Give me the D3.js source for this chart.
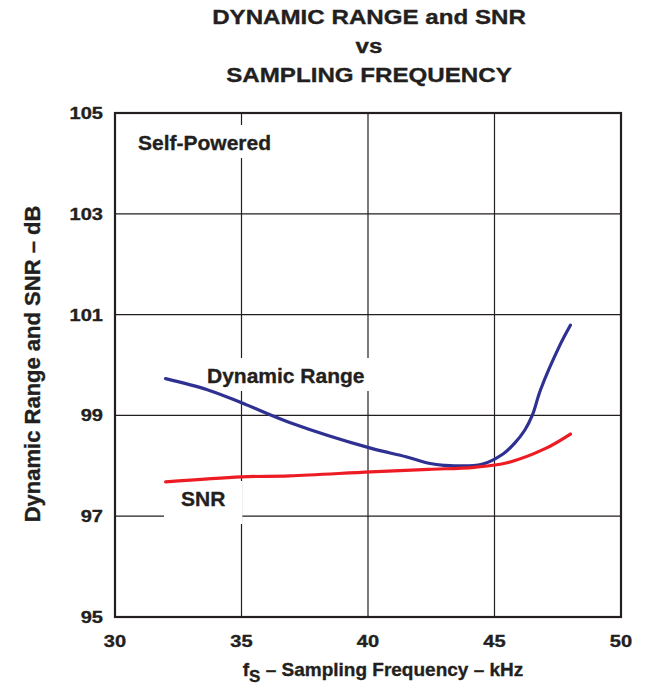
<!DOCTYPE html>
<html>
<head>
<meta charset="utf-8">
<script src="https://cdn.jsdelivr.net/npm/d3@7"></script>
<style>
  html, body { margin: 0; padding: 0; background: #fff; }
  text { font-family: "Liberation Sans", Arial, Helvetica, sans-serif; font-weight: bold; fill: #231f20; stroke: #231f20; stroke-width: 0.35px; }
</style>
</head>
<body>
<svg id="chart" width="650" height="692"></svg>
<script>
// ---- data ----
const titleLines = ["DYNAMIC RANGE and SNR", "vs", "SAMPLING FREQUENCY"];
const xTicks = [30, 35, 40, 45, 50];
const yTicks = [95, 97, 99, 101, 103, 105];
const drFreq = [32.0, 33.65, 35.0, 36.9, 40.1, 41.5, 42.4, 43.0, 44.5, 45.35, 45.8, 46.2, 46.5, 46.82, 47.6, 48.0];
const drValues = [99.73, 99.51, 99.25, 98.86, 98.35, 98.18, 98.05, 98.01, 98.03, 98.24, 98.45, 98.71, 99.01, 99.51, 100.41, 100.79];
const snrFreq = [32.0, 35.0, 36.9, 40.1, 42.4, 44.2, 45.5, 47.0, 48.0];
const snrValues = [97.68, 97.78, 97.8, 97.88, 97.93, 97.97, 98.06, 98.34, 98.63];
const seriesLabels = ["Dynamic Range", "SNR"];
const noteLabel = "Self-Powered";
const yTitle = "Dynamic Range and SNR \u2013 dB";
const xTitleMain = "f";
const xTitleSub = "S";
const xTitleRest = " \u2013 Sampling Frequency \u2013 kHz";

// ---- layout ----
const svg = d3.select("#chart");
const L = 115, R = 621, T = 113, B = 617;
const x = d3.scaleLinear().domain([30, 50]).range([L, R]);
const y = d3.scaleLinear().domain([95, 105]).range([B, T]);
const ink = "#231f20";

// title
const tY = [24, 53, 82];
titleLines.forEach((t, i) => {
  svg.append("text")
    .attr("transform", `translate(369,${tY[i]}) scale(1.15,1)`)
    .attr("text-anchor", "middle")
    .style("font-size", "21px")
    .text(t);
});

// grid
const g = svg.append("g");
g.selectAll("line.v").data(xTicks.slice(1, -1)).join("line")
  .attr("x1", d => x(d)).attr("x2", d => x(d))
  .attr("y1", T).attr("y2", B)
  .attr("stroke", ink).attr("stroke-width", 1.2);
g.selectAll("line.h").data(yTicks.slice(1, -1)).join("line")
  .attr("x1", L).attr("x2", R)
  .attr("y1", d => y(d)).attr("y2", d => y(d))
  .attr("stroke", ink).attr("stroke-width", 1.2);

// label backgrounds (break gridlines)
function labelWithBg(txt, tx, ty, padL, padR, padT, padB) {
  const t = svg.append("text").attr("x", tx).attr("y", ty)
    .style("font-size", "21px").text(txt);
  const bb = t.node().getBBox();
  svg.append("rect")
    .attr("x", bb.x - padL).attr("y", bb.y - padT)
    .attr("width", bb.width + padL + padR).attr("height", bb.height + padT + padB)
    .attr("fill", "#fff");
  t.raise();
  return t;
}

// frame
svg.append("rect")
  .attr("x", L).attr("y", T).attr("width", R - L).attr("height", B - T)
  .attr("fill", "none").attr("stroke", ink).attr("stroke-width", 2.2);

labelWithBg(noteLabel, 138, 150, 4, 4, 6, 4);
labelWithBg(seriesLabels[0], 207, 383, 6, 12, 6, 4);
labelWithBg(seriesLabels[1], 181, 506, 17, 17, 6, 14);

// lines
const line = d3.line().x(d => x(d[0])).y(d => y(d[1])).curve(d3.curveCatmullRom.alpha(0.5));
svg.append("path")
  .datum(drFreq.map((f, i) => [f, drValues[i]]))
  .attr("d", line).attr("fill", "none")
  .attr("stroke", "#2e3192").attr("stroke-width", 3.2).attr("stroke-linecap", "round");
svg.append("path")
  .datum(snrFreq.map((f, i) => [f, snrValues[i]]))
  .attr("d", line).attr("fill", "none")
  .attr("stroke", "#ed1c24").attr("stroke-width", 3.2).attr("stroke-linecap", "round");

// y tick labels
svg.selectAll("text.yt").data(yTicks).join("text")
  .attr("class", "yt")
  .attr("transform", d => `translate(103,${y(d) + 6}) scale(1.18,1)`)
  .attr("text-anchor", "end")
  .style("font-size", "17px")
  .text(d => d);

// x tick labels
svg.selectAll("text.xt").data(xTicks).join("text")
  .attr("class", "xt")
  .attr("transform", d => `translate(${x(d)},647) scale(1.18,1)`)
  .attr("text-anchor", "middle")
  .style("font-size", "17px")
  .text(d => d);

// y title
svg.append("text")
  .attr("transform", "translate(40,364) rotate(-90)")
  .attr("text-anchor", "middle")
  .style("font-size", "22px")
  .text(yTitle);

// x title
const xt = svg.append("text")
  .attr("x", 383).attr("y", 676)
  .attr("text-anchor", "middle")
  .style("font-size", "19px");
xt.append("tspan").text(xTitleMain);
xt.append("tspan").attr("dy", 6).style("font-size", "17px").text(xTitleSub);
xt.append("tspan").attr("dy", -6).text(xTitleRest);
</script>
</body>
</html>
